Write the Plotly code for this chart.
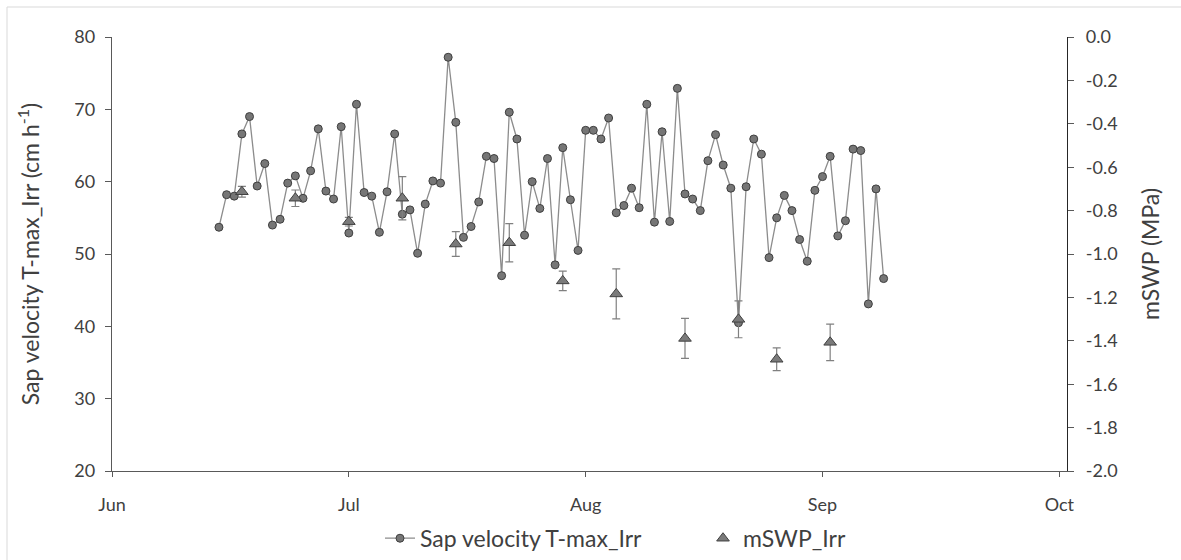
import plotly.graph_objects as go
import pandas as pd

# ---------------- data ----------------
sap_start = "2019-06-15"
sap_velocity = [
    53.7, 58.2, 58.0, 66.6, 69.0, 59.4, 62.5, 54.0, 54.8, 59.8,
    60.8, 57.7, 61.5, 67.3, 58.7, 57.6, 67.6, 52.9, 70.7, 58.5,
    58.0, 53.0, 58.6, 66.6, 55.5, 56.1, 50.1, 56.9, 60.1, 59.8,
    77.2, 68.2, 52.3, 53.8, 57.2, 63.5, 63.2, 47.0, 69.6, 65.9,
    52.6, 60.0, 56.3, 63.2, 48.5, 64.7, 57.5, 50.5, 67.1, 67.1,
    65.9, 68.8, 55.7, 56.7, 59.1, 56.4, 70.7, 54.4, 66.9, 54.5,
    72.9, 58.3, 57.6, 56.0, 62.9, 66.5, 62.3, 59.1, 40.5, 59.3,
    65.9, 63.8, 49.5, 55.0, 58.1, 56.0, 52.0, 49.0, 58.8, 60.7,
    63.5, 52.5, 54.6, 64.5, 64.3, 43.1, 59.0, 46.6,
]
sap_dates = pd.date_range(sap_start, periods=len(sap_velocity), freq="D")

mswp_dates = [
    "2019-06-18", "2019-06-25", "2019-07-02", "2019-07-09", "2019-07-16",
    "2019-07-23", "2019-07-30", "2019-08-06", "2019-08-15", "2019-08-22",
    "2019-08-27", "2019-09-03",
]
mswp_values = [-0.713, -0.743, -0.851, -0.743, -0.954, -0.948,
               -1.124, -1.184, -1.389, -1.301, -1.485, -1.407]
mswp_err = [0.025, 0.038, 0.02, 0.10, 0.057, 0.088,
            0.045, 0.115, 0.092, 0.085, 0.052, 0.084]

x_tick_dates = ["2019-06-01", "2019-07-02", "2019-08-02", "2019-09-02", "2019-10-03"]
x_tick_labels = ["Jun", "Jul", "Aug", "Sep", "Oct"]
x_range = ["2019-06-01", "2019-10-04"]

left_ticks = [20, 30, 40, 50, 60, 70, 80]
right_ticks = [0.0, -0.2, -0.4, -0.6, -0.8, -1.0, -1.2, -1.4, -1.6, -1.8, -2.0]
right_tick_labels = ["0.0", "-0.2", "-0.4", "-0.6", "-0.8", "-1.0",
                     "-1.2", "-1.4", "-1.6", "-1.8", "-2.0"]

# ---------------- figure ----------------
FONT = "Lato, 'Open Sans', sans-serif"
AXIS = "#595959"
TXT = "#404040"

fig = go.Figure()
fig.add_trace(go.Scatter(
    x=sap_dates, y=sap_velocity, name="Sap velocity T-max_Irr",
    mode="lines+markers",
    line=dict(color="#8c8c8c", width=1.3),
    marker=dict(symbol="circle", size=8, color="#767676",
                line=dict(color="#3f3f3f", width=1)),
    yaxis="y", legend="legend",
))
fig.add_trace(go.Scatter(
    x=mswp_dates, y=mswp_values, name="mSWP_Irr",
    mode="markers",
    marker=dict(symbol="triangle-up", size=11, color="#7a7a7a",
                line=dict(color="#404040", width=1)),
    error_y=dict(type="data", array=mswp_err, visible=True,
                 color="#808080", thickness=1.2, width=4),
    yaxis="y2", legend="legend2",
))

legend_style = dict(orientation="h", xanchor="left", y=-0.155, yanchor="middle",
                    font=dict(size=23, color=TXT), itemwidth=30,
                    bgcolor="rgba(0,0,0,0)")

fig.update_layout(
    width=1181, height=560,
    margin=dict(l=112, r=114, t=37, b=89, autoexpand=False),
    paper_bgcolor="white", plot_bgcolor="white",
    font=dict(family=FONT, color=TXT, size=18),
    showlegend=True,
    legend=dict(x=(380 - 112) / 955, **legend_style),
    legend2=dict(x=(703 - 112) / 955, **legend_style),
    xaxis=dict(
        type="date", range=x_range,
        tickvals=x_tick_dates, ticktext=x_tick_labels,
        showline=True, linecolor=AXIS, linewidth=1.3,
        ticks="outside", ticklen=5, tickcolor=AXIS, tickwidth=1.2,
        showgrid=False, zeroline=False,
        tickfont=dict(size=18, color=TXT),
        ticklabelstandoff=12,
    ),
    yaxis=dict(
        range=[20, 80], tickvals=left_ticks,
        showline=True, linecolor=AXIS, linewidth=1.3,
        ticks="outside", ticklen=6, tickcolor=AXIS, tickwidth=1.2,
        showgrid=False, zeroline=False,
        tickfont=dict(size=18, color=TXT),
        ticklabelstandoff=6,
        title=dict(text="Sap velocity T-max_Irr (cm h<sup>-1</sup>)",
                   font=dict(size=23, color=TXT), standoff=28),
    ),
    yaxis2=dict(
        range=[-2.0, 0.0], tickvals=right_ticks, ticktext=right_tick_labels,
        overlaying="y", side="right",
        showline=True, linecolor="#262626", linewidth=1.3,
        ticks="outside", ticklen=6, tickcolor=AXIS, tickwidth=1.2,
        showgrid=False, zeroline=False,
        tickfont=dict(size=18, color=TXT),
        ticklabelstandoff=8,
        title=dict(text="mSWP (MPa)", font=dict(size=23, color=TXT), standoff=26),
    ),
)

# light frame around the chart area (left / top edges visible)
fig.add_shape(type="rect", xref="paper", yref="paper",
              x0=(7 - 112) / 955, x1=1.3, y0=-0.4, y1=(471 - 7) / 434,
              line=dict(color="#d9d9d9", width=1), fillcolor="rgba(0,0,0,0)",
              layer="below")

fig.write_html("out.html")
